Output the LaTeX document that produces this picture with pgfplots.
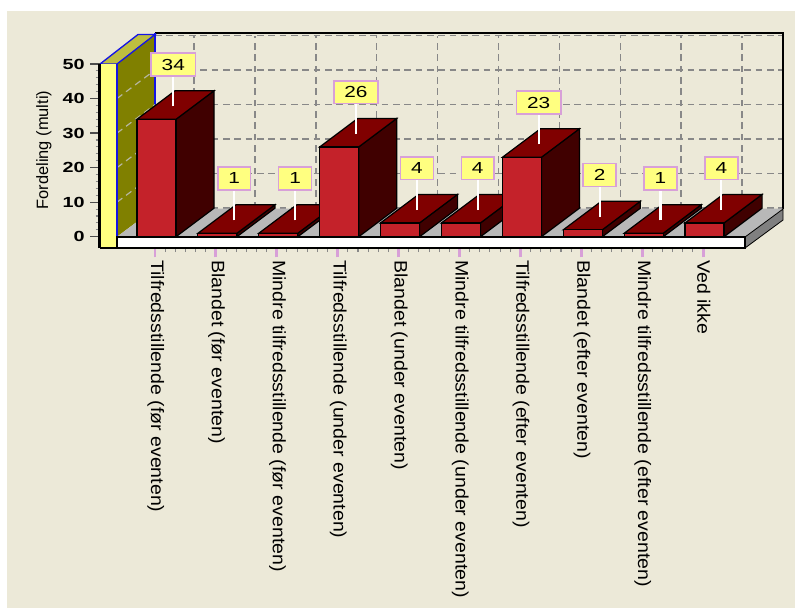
\documentclass[border=0pt]{standalone}
\usepackage{fontspec}
\setmainfont{Liberation Sans}
\usepackage{pgfplots}
\usepackage{pgfplotstable}
\pgfplotsset{compat=1.18}
\definecolor{panel}{RGB}{236,233,216}
\definecolor{barfront}{RGB}{196,34,42}
\definecolor{bartop}{RGB}{128,0,0}
\definecolor{barside}{RGB}{64,0,0}
\definecolor{wallyellow}{RGB}{255,255,128}
\definecolor{wallolive}{RGB}{128,128,0}
\definecolor{walltop}{RGB}{190,190,64}
\definecolor{floorgrey}{RGB}{184,184,184}
\definecolor{floorside}{RGB}{128,128,128}
\definecolor{griddash}{RGB}{136,136,136}
\definecolor{pinkline}{RGB}{216,160,216}
\definecolor{wallblue}{RGB}{20,20,230}
\pgfplotstableread{
i v
0 34
1 1
2 1
3 26
4 4
5 4
6 23
7 2
8 1
9 4
}\datatab
% pixel helper: reference pixel to axis units
\newcommand\PX[2]{(axis cs:{(#1-155)/60.9},{(236.7-#2)/3.454})}
\newcommand\TD[2]{%
  \addplot[fill=barside,draw=black,line width=0.9pt] coordinates {({#1+0.3448},0) ({#1+0.3448},#2) ({#1+0.9688},{#2+8.25}) ({#1+0.9688},8.25)} -- cycle;
  \addplot[fill=bartop,draw=black,line width=0.9pt] coordinates {({#1-0.2956},#2) ({#1+0.3448},#2) ({#1+0.9688},{#2+8.25}) ({#1+0.3284},{#2+8.25})} -- cycle;
}
\newcommand\LL[1]{\scalebox{1.085}[1]{#1}}
\begin{document}
\begin{tikzpicture}
\begin{axis}[
  scale only axis,
  width=484.1pt, height=138pt,
  xmin=-0.911, xmax=9.688,
  ymin=-3.27, ymax=50,
  clip=false,
  axis x line*=bottom, axis y line*=left,
  axis line style={black, line width=2.2pt, -},
  axis on top,
  tick align=outside,
  major tick length=7pt, minor tick length=3pt,
  xtick={0,...,9},
  xticklabels={
    {\LL{Tilfredsstillende (før eventen)}},
    {\LL{Blandet (før eventen)}},
    {\LL{Mindre tilfredsstillende (før eventen)}},
    {\LL{Tilfredsstillende (under eventen)}},
    {\LL{Blandet (under eventen)}},
    {\LL{Mindre tilfredsstillende (under eventen)}},
    {\LL{Tilfredsstillende (efter eventen)}},
    {\LL{Blandet (efter eventen)}},
    {\LL{Mindre tilfredsstillende (efter eventen)}},
    {\LL{Ved ikke}}},
  x tick label style={rotate=-90, anchor=west, font=\fontsize{13.5}{15}\selectfont, yshift=0.5pt, xshift=1pt, inner sep=1pt},
  ytick={0,10,20,30,40,50},
  yticklabels={
    {\scalebox{1.35}[1]{\textbf{0}}},
    {\scalebox{1.35}[1]{\textbf{10}}},
    {\scalebox{1.35}[1]{\textbf{20}}},
    {\scalebox{1.35}[1]{\textbf{30}}},
    {\scalebox{1.35}[1]{\textbf{40}}},
    {\scalebox{1.35}[1]{\textbf{50}}}},
  y tick label style={font=\fontsize{11}{12}\selectfont, inner sep=1pt, xshift=-3pt},
  minor x tick num=5,
  minor y tick num=4,
  major x tick style={pinkline, line width=2.2pt},
  minor x tick style={griddash, line width=0.8pt},
  major y tick style={black!70, line width=1pt},
  minor y tick style={griddash, line width=0.8pt},
  /pgf/number format/assume math mode=true,
]
% page and panel
\fill[white] \PX{0}{0} rectangle \PX{795}{608};
\fill[panel] \PX{7}{11} rectangle \PX{795}{608};

% back wall grid
\pgfplotsinvokeforeach{0,1,2,3,4,5,6,7,8,9}{
  \draw[griddash, line width=1.1pt, dash pattern=on 5pt off 3.5pt]
    (axis cs:{#1+0.64},8.25) -- (axis cs:{#1+0.64},{50+8.25});
}
\pgfplotsinvokeforeach{0,10,20,30,40,50}{
  \draw[griddash, line width=1.1pt, dash pattern=on 5pt off 3.5pt]
    (axis cs:{(155-155)/60.9},{#1+8.25}) -- (axis cs:{(783-155)/60.9},{#1+8.25});
}
% wall frame
\draw[black, line width=1.5pt] \PX{155}{33} -- \PX{783}{33} -- \PX{783}{209};

% left wall
\fill[wallolive] \PX{117}{64} -- \PX{155}{35} -- \PX{155}{208} -- \PX{117}{236.7} -- cycle;
\draw[wallblue, line width=1.5pt] \PX{155}{33} -- \PX{155}{208};
\pgfplotsinvokeforeach{10,20,30,40}{
  \draw[griddash!70!wallolive!60!white, line width=0.9pt, dash pattern=on 5pt off 3.5pt]
    (axis cs:{(117-155)/60.9},#1) -- (axis cs:0,{#1+8.25});
}
\filldraw[fill=walltop, draw=wallblue, line width=1pt] \PX{100}{64} -- \PX{117}{64} -- \PX{155}{34.5} -- \PX{138}{34.5} -- cycle;
\fill[wallyellow] \PX{100}{64} rectangle \PX{117}{248};
\draw[wallblue, line width=1.2pt] \PX{117}{64} -- \PX{117}{237};

% floor
\fill[floorgrey] \PX{117}{236.7} -- \PX{155}{208.5} -- \PX{783}{208.5} -- \PX{745}{236.7} -- cycle;
\filldraw[fill=floorside, draw=black, line width=0.6pt] \PX{745}{237} -- \PX{783}{209} -- \PX{783}{220} -- \PX{745}{248} -- cycle;
\filldraw[fill=white, draw=black, line width=1pt] \PX{117}{237} rectangle \PX{745}{248};

% 3D bar side and top faces
\TD{0}{34}
\TD{1}{1}
\TD{2}{1}
\TD{3}{26}
\TD{4}{4}
\TD{5}{4}
\TD{6}{23}
\TD{7}{2}
\TD{8}{1}
\TD{9}{4}
% front faces
\addplot[ybar, bar width=29.25pt, bar shift=1.1pt, fill=barfront, draw=black, line width=0.9pt] table[x=i, y=v] {\datatab};

% value callouts
\addplot[draw=none, mark=none,
  error bars/.cd, y dir=plus, y fixed=9.2, error mark=none,
  error bar style={white, line width=1.6pt}]
  table[x expr=\thisrow{i}+0.3, y expr=\thisrow{v}+3.7] {\datatab};
\addplot[draw=none, mark=none, point meta=explicit,
  nodes near coords={\scalebox{1.3}[1]{\pgfmathprintnumber{\pgfplotspointmeta}}},
  nodes near coords style={anchor=center, yshift=31.5pt, fill=wallyellow, draw=pinkline, line width=1.2pt,
     inner xsep=8pt, inner ysep=3pt, font=\fontsize{12}{13}\selectfont, minimum height=17pt}]
  table[x expr=\thisrow{i}+0.3, y expr=\thisrow{v}+3.7, meta=v] {\datatab};

% axis title
\node[rotate=90, font=\fontsize{12.3}{14}\selectfont] at \PX{44}{150} {Fordeling (multi)};
\end{axis}
\end{tikzpicture}
\end{document}
